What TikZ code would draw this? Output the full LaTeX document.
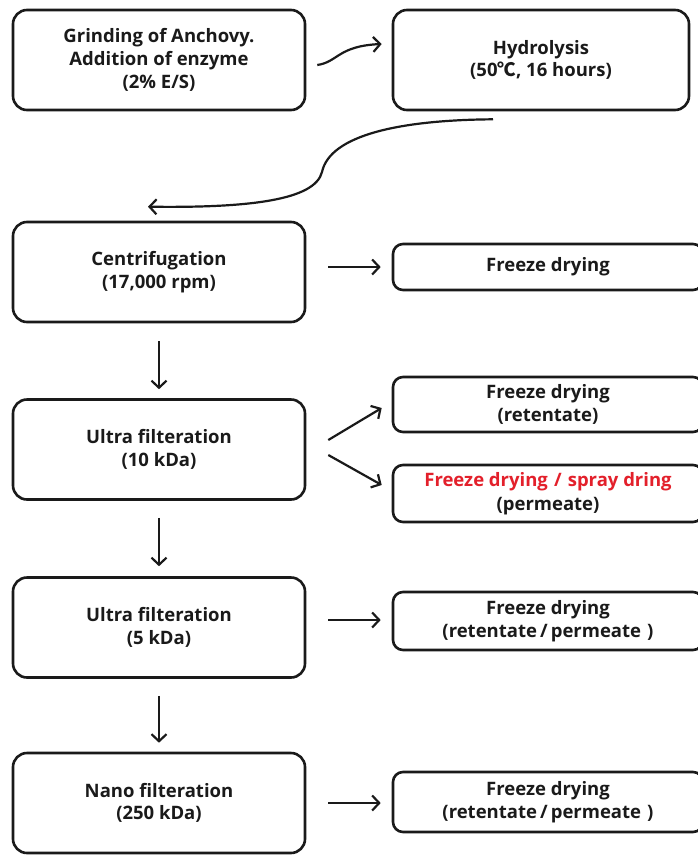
\documentclass[tikz,border=0pt]{standalone}
\usepackage{fontspec}
\setmainfont{Open Sans}
\newfontfamily\symfont{Noto Sans CJK KR}
\usetikzlibrary{arrows.meta}
\definecolor{ink}{HTML}{1A1A1A}
\definecolor{accent}{HTML}{E3202B}
\begin{document}
\begin{tikzpicture}[x=1pt,y=-1pt,
  stage/.style={draw=ink, line width=2.6pt, rounded corners=14pt,
    minimum width=292pt, minimum height=100pt, inner sep=0pt,
    align=center, text=ink, font=\fontsize{18.5}{22.7}\selectfont\bfseries},
  outlet/.style={draw=ink, line width=2.6pt, rounded corners=10pt,
    minimum width=310pt, inner sep=0pt,
    align=center, text=ink, font=\fontsize{18.5}{23.5}\selectfont\bfseries},
  flow/.style={draw=ink, line width=2.2pt,
    -{Straight Barb[length=7pt,width=15pt,line width=2.2pt]}}
]
\useasboundingbox (0,0) rectangle (698,855);
\clip (0,0) rectangle (698,855);
\fill[white] (0,0) rectangle (698,855);

% main process column
\node[stage] (grind) at (159,60) {Grinding of Anchovy.\\Addition of enzyme\\(2\% E/S)};
\node[stage, minimum width=296pt] (hydro) at (541,60) {Hydrolysis\\(50{\symfont ℃}, 16 hours)};
\node[stage] (cent) at (159,272) {Centrifugation\\(17,000 rpm)};
\node[stage] (uf10) at (159,449.5) {Ultra filteration\\(10 kDa)};
\node[stage] (uf5) at (159,627.5) {Ultra filteration\\(5 kDa)};
\node[stage] (nano) at (159,803) {Nano filteration\\(250 kDa)};

% product boxes on the right
\node[outlet, minimum height=46pt] (fd1) at (548,267) {Freeze drying};
\node[outlet, minimum height=55pt] (fd2) at (548,404.5) {Freeze drying\\(retentate)};
\node[outlet, minimum height=57pt] (fd3) at (548,493.5) {\textcolor{accent}{Freeze drying\,\,/\,\,spray dring}\\(permeate)};
\node[outlet, minimum height=58pt] (fd4) at (548,621) {Freeze drying\\(retentate\,/\,permeate\,\,)};
\node[outlet, minimum height=60pt] (fd5) at (548,802) {Freeze drying\\(retentate\,/\,permeate\,\,)};

% curved connectors at the top
\draw[flow] ([xshift=11pt,yshift=-5pt]grind.east)
  .. controls (338,62) and (338,46) .. ([xshift=-10pt,yshift=16pt]hydro.west);
\coordinate (bend) at (322,172);
\draw[flow] ([xshift=-48pt,yshift=-8pt]hydro.south)
  .. controls (400,120) and (330,135) .. (bend)
  .. controls (315,200) and (250,208) .. ([xshift=-11pt,yshift=14pt]cent.north);

% sideways outputs
\draw[flow] ([xshift=22pt,yshift=5pt]cent.east) -- ([xshift=-11pt]fd1.west);
\draw[flow] ([xshift=22pt,yshift=9.5pt]uf10.east) -- ([xshift=-10pt,yshift=-3.5pt]fd2.west);
\draw[flow] ([xshift=22pt,yshift=-5.5pt]uf10.east) -- ([xshift=-10pt,yshift=8.5pt]fd3.west);
\draw[flow] ([xshift=22pt,yshift=7.5pt]uf5.east) -- ([xshift=-11pt,yshift=1pt]fd4.west);
\draw[flow] ([xshift=22pt]nano.east) -- ([xshift=-11pt,yshift=-1pt]fd5.west);

% downward steps
\draw[flow, shorten <=18pt, shorten >=9pt] (cent.south) -- (uf10.north);
\draw[flow, shorten <=17pt, shorten >=10pt] (uf10.south) -- (uf5.north);
\draw[flow, shorten <=17pt, shorten >=9pt] (uf5.south) -- (nano.north);
\end{tikzpicture}
\end{document}
